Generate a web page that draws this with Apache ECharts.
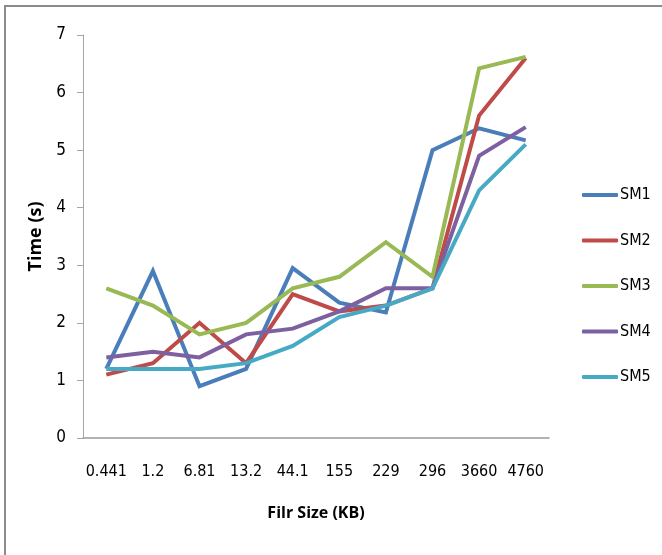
<!DOCTYPE html>
<html>
<head>
<meta charset="utf-8">
<script src="https://cdn.jsdelivr.net/npm/echarts@6/dist/echarts.min.js"></script>
<style>
  html, body { margin: 0; padding: 0; background: #fff; }
  #chart { width: 662px; height: 555px; }
</style>
</head>
<body>
<div id="chart"></div>
<script>
// File sizes along the x axis
const fileSizes = ['0.441', '1.2', '6.81', '13.2', '44.1', '155', '229', '296', '3660', '4760'];

// Time (s) per method
const sm1 = [1.2, 2.9, 0.9, 1.2, 2.95, 2.35, 2.18, 5.0, 5.38, 5.17];
const sm2 = [1.1, 1.3, 2.0, 1.3, 2.5, 2.2, 2.3, 2.6, 5.6, 6.6];
const sm3 = [2.6, 2.3, 1.8, 2.0, 2.6, 2.8, 3.4, 2.8, 6.42, 6.62];
const sm4 = [1.4, 1.5, 1.4, 1.8, 1.9, 2.2, 2.6, 2.6, 4.9, 5.4];
const sm5 = [1.2, 1.2, 1.2, 1.3, 1.6, 2.1, 2.3, 2.6, 4.3, 5.1];

const seriesNames = ['SM1', 'SM2', 'SM3', 'SM4', 'SM5'];
const seriesData = [sm1, sm2, sm3, sm4, sm5];
const colors = ['#4A7EBB', '#BE4B48', '#98B954', '#7D60A0', '#46AAC5'];

const FONT = "'Liberation Sans Narrow', 'DejaVu Sans Condensed', 'Open Sans', sans-serif";
const BOLD_FONT = "'Open Sans', 'Liberation Sans', sans-serif";

const chart = echarts.init(document.getElementById('chart'), null, { renderer: 'canvas' });

chart.setOption({
  animation: false,
  backgroundColor: '#ffffff',
  color: colors,
  grid: { left: 83, right: 113, top: 35, bottom: 117, containLabel: false },
  graphic: [
    {
      type: 'polyline',
      shape: { points: [[5, 555], [5, 6], [662, 6]] },
      style: { stroke: '#8c8c8c', lineWidth: 2, fill: null }
    }
  ],
  legend: {
    orient: 'vertical',
    left: 577,
    top: 180,
    icon: 'roundRect',
    itemWidth: 36,
    itemHeight: 4,
    itemGap: 25.5,
    data: seriesNames,
    textStyle: { fontFamily: FONT, fontSize: 16, color: '#000', lineHeight: 20, padding: [0, 0, 0, -3] }
  },
  xAxis: {
    type: 'category',
    data: fileSizes,
    boundaryGap: true,
    name: 'Filr Size (KB)',
    nameLocation: 'middle',
    nameGap: 67,
    nameTextStyle: { fontFamily: BOLD_FONT, fontWeight: 'bold', fontSize: 16, color: '#000' },
    axisLine: { lineStyle: { color: '#9a9a9a', width: 1.5 } },
    axisTick: { show: false },
    axisLabel: { fontFamily: FONT, fontSize: 16, color: '#000', margin: 26, interval: 0 }
  },
  yAxis: {
    type: 'value',
    min: 0,
    max: 7,
    interval: 1,
    name: 'Time (s)',
    nameLocation: 'middle',
    nameGap: 37,
    nameRotate: 90,
    nameTextStyle: { fontFamily: BOLD_FONT, fontWeight: 'bold', fontSize: 18, color: '#000' },
    axisLine: { show: true, lineStyle: { color: '#a6a6a6', width: 1 } },
    axisTick: { show: true, length: 6, lineStyle: { color: '#a6a6a6' } },
    splitLine: { show: false },
    axisLabel: { fontFamily: FONT, fontSize: 17, color: '#000', margin: 17 }
  },
  series: seriesNames.map((name, i) => ({
    name: name,
    type: 'line',
    data: seriesData[i],
    symbol: 'none',
    lineStyle: { width: 4, color: colors[i], join: 'miter' },
    itemStyle: { color: colors[i] }
  }))
});
</script>
</body>
</html>
